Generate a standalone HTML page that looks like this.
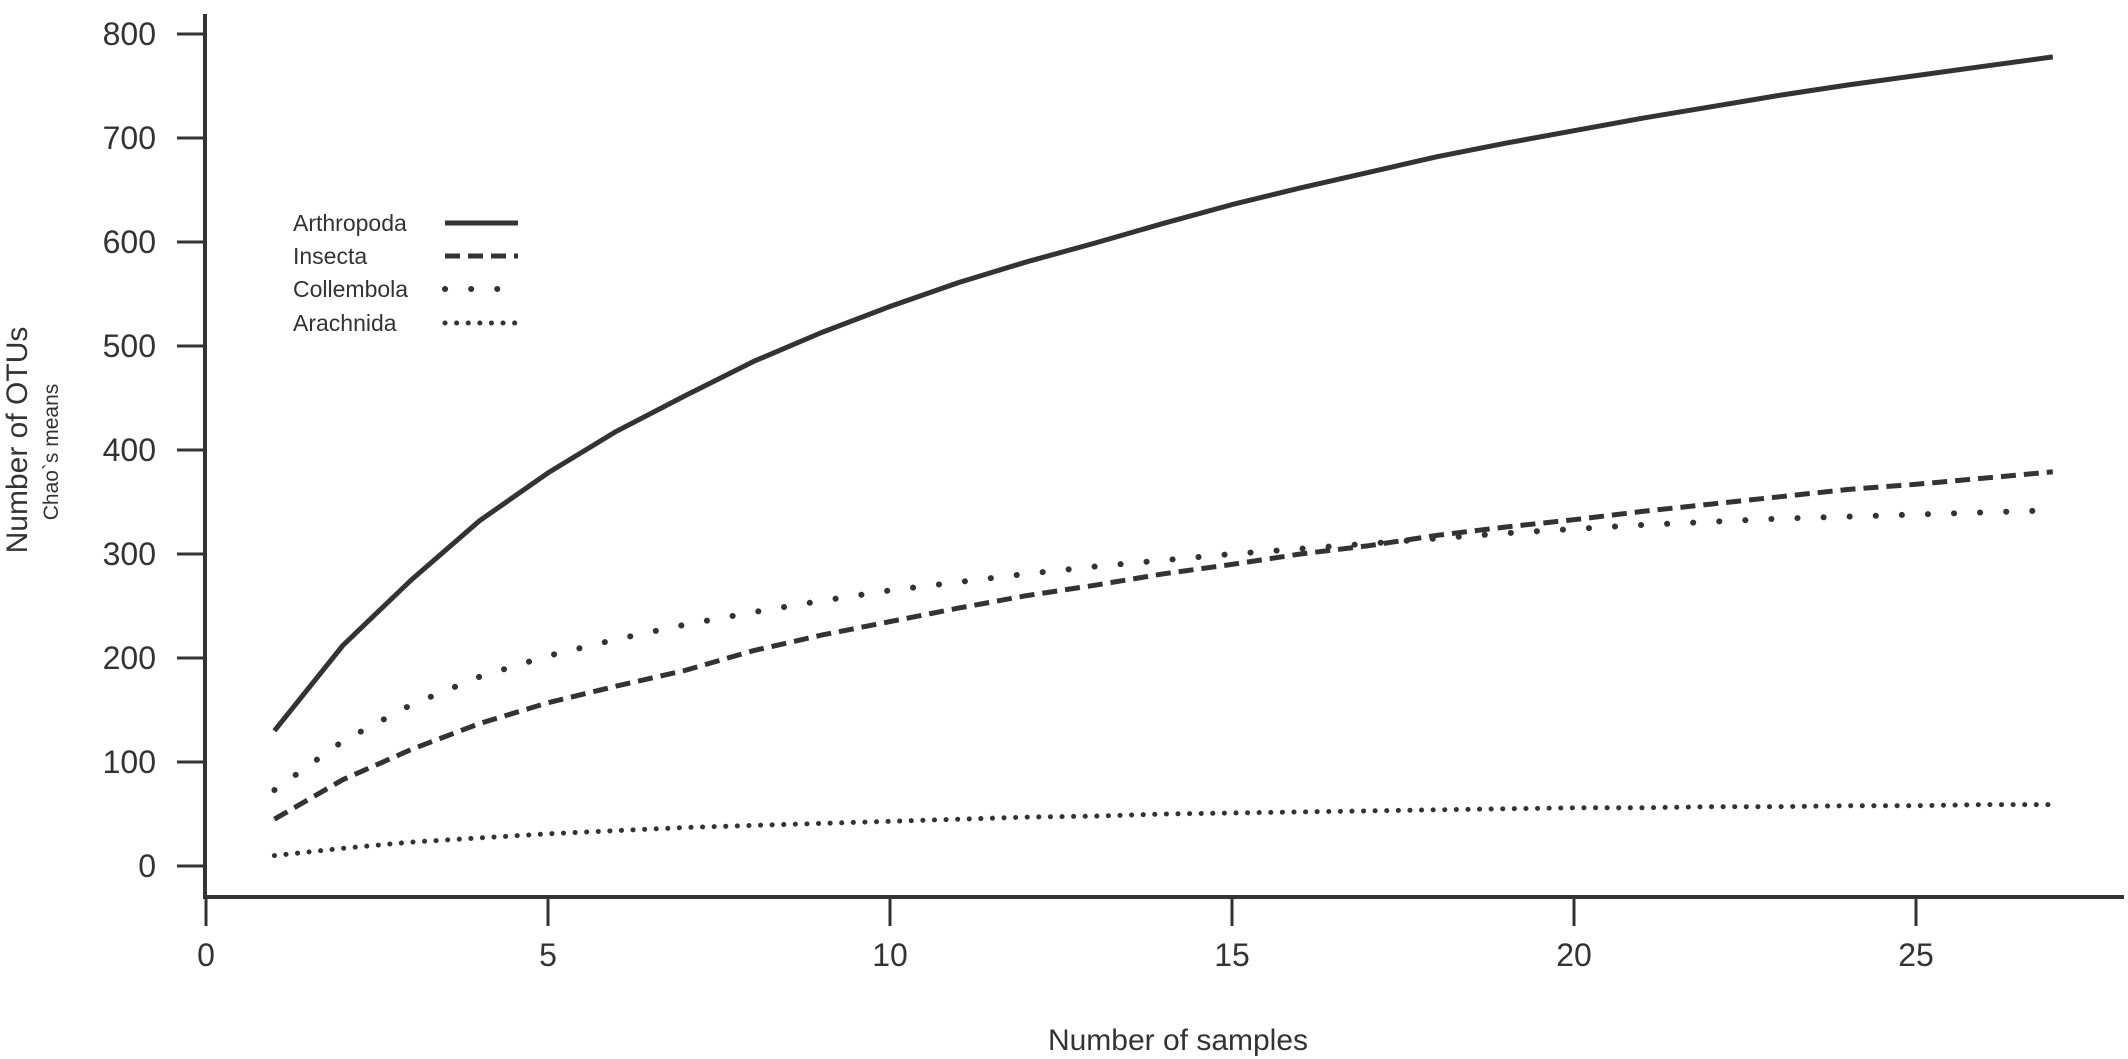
<!DOCTYPE html>
<html><head><meta charset="utf-8"><style>
html,body{margin:0;padding:0;background:#fff;}
svg{display:block;font-family:"Liberation Sans",Arial,sans-serif;fill:#333;}
</style></head><body>
<svg id="chart" width="2128" height="1059" viewBox="0 0 2128 1059" xmlns="http://www.w3.org/2000/svg">
<g id="axes"></g>
<g id="series"></g>
<text x="1178" y="1050" font-size="30" text-anchor="middle" fill="#333">Number of samples</text>
<text transform="translate(27,440) rotate(-90)" font-size="30" text-anchor="middle" fill="#333">Number of OTUs</text>
<text transform="translate(58,452) rotate(-90)" font-size="21" text-anchor="middle" fill="#333">Chao`s means</text>
<g id="legend"></g>
</svg>
<script>
const samples = [1,2,3,4,5,6,7,8,9,10,11,12,13,14,15,16,17,18,19,20,21,22,23,24,25,26,27];
const arthropoda = [130,212,275,332,378,418,452,485,513,538,561,581,599,618,636,652,667,682,695,707,719,730,741,751,760,769,778];
const insecta = [45,83,112,137,157,173,188,207,222,235,248,260,270,281,290,300,308,318,326,333,341,348,355,362,367,373,379];
const collembola = [73,120,155,182,202,218,232,244,255,265,273,281,288,294,300,305,310,315,320,324,328,331,334,336,338,340,342];
const arachnida = [10,17,23,27,31,34,37,39,41,43,45,47,48,50,51,52,53,54,55,56,56,57,57,58,58,59,59];
const xTicks = [0,5,10,15,20,25];
const yTicks = [0,100,200,300,400,500,600,700,800];
const seriesNames = ["Arthropoda","Insecta","Collembola","Arachnida"];

const NS = "http://www.w3.org/2000/svg";
const X0 = 206, XS = 68.4, Y0 = 866, YS = 1.04;
function xScale(v){ return X0 + v*XS; }
function yScale(v){ return Y0 - v*YS; }
function mk(tag, attrs, parent){
  const e = document.createElementNS(NS, tag);
  for (const k in attrs) e.setAttribute(k, attrs[k]);
  parent.appendChild(e);
  return e;
}
const axes = document.getElementById('axes');
let yl = mk('line',{x1:205,y1:14,x2:205,y2:898,stroke:'#333','stroke-width':4},axes);


let xl = mk('line',{x1:203,y1:897,x2:2124,y2:897,stroke:'#333','stroke-width':4},axes);


yTicks.forEach(t=>{
  const y = yScale(t);
  const tk = mk('line',{x1:177,y1:y,x2:205,y2:y,stroke:'#333','stroke-width':3},axes);
  
  
  const lb = mk('text',{x:156,y:y+11,'font-size':32,'text-anchor':'end',fill:'#333'},axes);
  lb.textContent = t;
  
  
});
xTicks.forEach(t=>{
  const x = xScale(t);
  const tk = mk('line',{x1:x,y1:897,x2:x,y2:926,stroke:'#333','stroke-width':3},axes);
  
  
  const lb = mk('text',{x:x,y:966,'font-size':32,'text-anchor':'middle',fill:'#333'},axes);
  lb.textContent = t;
  
  
});
const styles = [
  {dash:'', cap:'butt'},
  {dash:'15 8', cap:'butt'},
  {dash:'0.1 26', cap:'round'},
  {dash:'0.1 11.5', cap:'round'}
];
const widths = [5,5,6,5];
const data = [arthropoda, insecta, collembola, arachnida];
const sg = document.getElementById('series');
data.forEach((arr,i)=>{
  const d = arr.map((v,j)=>(j?'L':'M')+xScale(samples[j]).toFixed(1)+','+yScale(v).toFixed(1)).join(' ');
  const p = mk('path',{d:d,fill:'none',stroke:'#333','stroke-width':widths[i],'stroke-linecap':styles[i].cap,'stroke-linejoin':'round'},sg);
  if (styles[i].dash) p.setAttribute('stroke-dasharray', styles[i].dash);
  
  
});
const lg = document.getElementById('legend');
const rowsY = [223,256,289,323];
seriesNames.forEach((n,i)=>{
  const t = mk('text',{x:293,y:rowsY[i]+8,'font-size':23,fill:'#333'},lg);
  t.textContent = n;
  
  
  const l = mk('line',{x1:445,y1:rowsY[i],x2:518,y2:rowsY[i],stroke:'#333','stroke-width':widths[i],'stroke-linecap':styles[i].cap},lg);
  if (styles[i].dash) l.setAttribute('stroke-dasharray', styles[i].dash);
  
  
});
</script>
</body></html>
